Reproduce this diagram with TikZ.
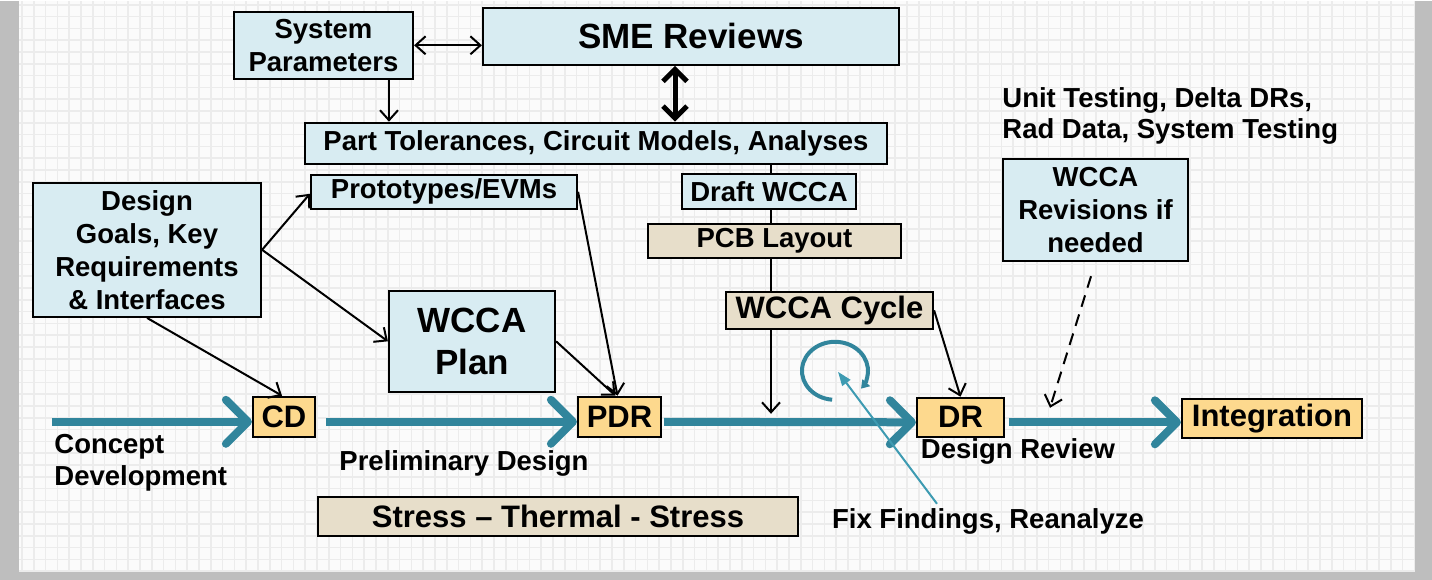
\documentclass[tikz,border=0pt]{standalone}
\usepackage{fontspec}
\setmainfont{Liberation Sans}
\usetikzlibrary{arrows.meta,calc}
\definecolor{framec}{HTML}{BEBEBE}
\definecolor{paper}{HTML}{FBFBFB}
\definecolor{gridc}{HTML}{ECECEC}
\definecolor{boxblue}{HTML}{D8ECF2}
\definecolor{boxtan}{HTML}{E7DECA}
\definecolor{boxgold}{HTML}{FDD98E}
\definecolor{tealA}{HTML}{31859C}
\definecolor{tealB}{HTML}{3E9BB2}
\tikzset{
  fmid/.style={font=\bfseries\fontsize{13.75}{16.5}\selectfont},
  fbig/.style={font=\bfseries\fontsize{15.5}{18}\selectfont},
  fhuge/.style={font=\bfseries\fontsize{17.5}{21}\selectfont},
  sz/.style 2 args={minimum width=#1*0.5pt, minimum height=#2*0.5pt},
  box/.style={draw=black, line width=1.1pt, inner sep=0pt, align=center, fmid},
  bluebox/.style={box, fill=boxblue},
  tanbox/.style={box, fill=boxtan},
  goldbox/.style={box, fill=boxgold, fbig},
  lbl/.style={inner sep=0pt, fmid},
  blk/.style={draw=black, line width=1pt, -{Straight Barb[length=5pt,width=9pt]}},
  blk2/.style={draw=black, line width=1pt, {Straight Barb[length=5pt,width=9pt]}-{Straight Barb[length=5pt,width=9pt]}},
  thick2/.style={draw=black, line width=2.5pt, {Straight Barb[length=6pt,width=12pt]}-{Straight Barb[length=6pt,width=12pt]}},
  flow/.style={draw=tealA, line width=4pt, -{Straight Barb[length=11pt,width=22pt,round]}},
}
\begin{document}
\begin{tikzpicture}[x=0.5pt,y=-0.5pt]
% frame and grid paper
\fill[framec] (0,0) rectangle (1432,579);
\fill[paper] (19,0) rectangle (1415,569);
\foreach \i in {0,...,118} { \draw[gridc, line width=0.8pt] (22+\i*11.8,0) -- (22+\i*11.8,569); }
\foreach \j in {0,...,48} { \draw[gridc, line width=0.8pt] (19,4+\j*11.8) -- (1415,4+\j*11.8); }
\useasboundingbox (0,0) rectangle (1432,579);

% coordinates
\coordinate (vend) at (771,413);
\coordinate (thx) at (675,90);
\coordinate (spx) at (389,100);
\coordinate (flowstart) at (52,421);
\coordinate (dashend) at (1050,407);
\coordinate (loopc) at (835,370);
\coordinate (fixs) at (937,503);
\coordinate (fixe) at (838,371);

% top boxes
\node[bluebox, sz={179}{67}] (sys) at (323.5,44.5) {System\\Parameters};
\node[bluebox, sz={416}{57}, fhuge] (sme) at (691,35.5) {SME Reviews};
\node[bluebox, sz={582}{41}] (part) at (596,142.5) {Part Tolerances, Circuit Models, Analyses};

% vertical line behind the middle boxes
\draw[blk] (part.south -| vend) -- (vend);

\node[bluebox, sz={266}{34}] (proto) at (444,191) {Prototypes/EVMs};
\node[bluebox, sz={174}{35}] (draft) at (769,190.5) {Draft WCCA};
\node[tanbox, sz={253}{34}] (pcb) at (774.5,240) {PCB Layout};
\node[tanbox, sz={207}{37}, fbig] (cycle) at (829.5,309.5) {WCCA Cycle};
\node[bluebox, sz={166}{101}, fhuge] (plan) at (472,340.5) {WCCA\\Plan};
\node[bluebox, sz={228}{134}] (goals) at (147,249) {Design\\Goals, Key\\Requirements\\\& Interfaces};
\node[bluebox, sz={185}{102}] (rev) at (1095.5,209) {WCCA\\Revisions if\\needed};
\node[tanbox, sz={480}{39}, fbig] (stress) at (558,515.5) {Stress -- Thermal - Stress};

% milestones
\node[goldbox, sz={62}{40}] (cd) at (284,416) {CD};
\node[goldbox, sz={83}{40}] (pdr) at (619.5,416) {PDR};
\node[goldbox, sz={87}{39}] (dr) at (960.5,416.5) {DR};
\node[goldbox, sz={180}{39}] (integ) at (1272,417.5) {Integration};

% free labels
\node[lbl, anchor=west, align=left, font=\bfseries\fontsize{13.75}{15.5}\selectfont] (unit) at (1002,115.5) {Unit Testing, Delta DRs,\\Rad Data, System Testing};
\node[lbl, anchor=west, align=left, font=\bfseries\fontsize{13.75}{16}\selectfont] (concept) at (54,462) {Concept\\Development};
\node[lbl] (prelim) at (464,463) {Preliminary Design};
\node[lbl] (desrev) at (1018,451) {Design Review};
\node[lbl] (fix) at (988,521) {Fix Findings, Reanalyze};

% black connectors
\draw[blk2] (sys.east) -- (sys.east -| sme.west);
\draw[thick2] (sme.south -| thx) -- (part.north -| thx);
\draw[blk] (sys.south -| spx) -- (part.north -| spx);
\draw[blk] (goals.east) -- ([yshift=-1pt]proto.west);
\draw[blk] (goals.east) -- (plan.west);
\draw[blk] (goals.south) -- ([xshift=-1pt]cd.north);
\draw[blk] (proto.east) -- ([xshift=-1pt]pdr.north);
\draw[blk] (plan.east) -- ([xshift=-2pt]pdr.north);
\draw[blk] (cycle.east) -- (dr.north);
\draw[blk, dashed, dash pattern=on 6pt off 4pt, shorten <=7.5pt] (rev.south) -- (dashend);

% teal flow arrows
\draw[flow] (flowstart) -- ([yshift=-2.5pt]cd.west);
\draw[flow, shorten <=5pt] ([yshift=-2.5pt]cd.east) -- ([yshift=-2.5pt]pdr.west);
\draw[flow, shorten <=1pt] ([yshift=-2.5pt]pdr.east) -- ([yshift=-2.5pt]dr.west);
\draw[flow, shorten <=2pt] ([yshift=-2.5pt]dr.east) -- ([yshift=-2pt]integ.west);

% loop and fix pointer
\draw[tealA, line width=2pt, -{Triangle[length=4pt,width=5pt]}] (loopc) ++(95:33 and 29) arc[start angle=95, end angle=398, x radius=33, y radius=29];
\draw[tealB, line width=1pt, -{Triangle[length=7pt,width=5pt]}] (fixs) -- (fixe);
\end{tikzpicture}
\end{document}
